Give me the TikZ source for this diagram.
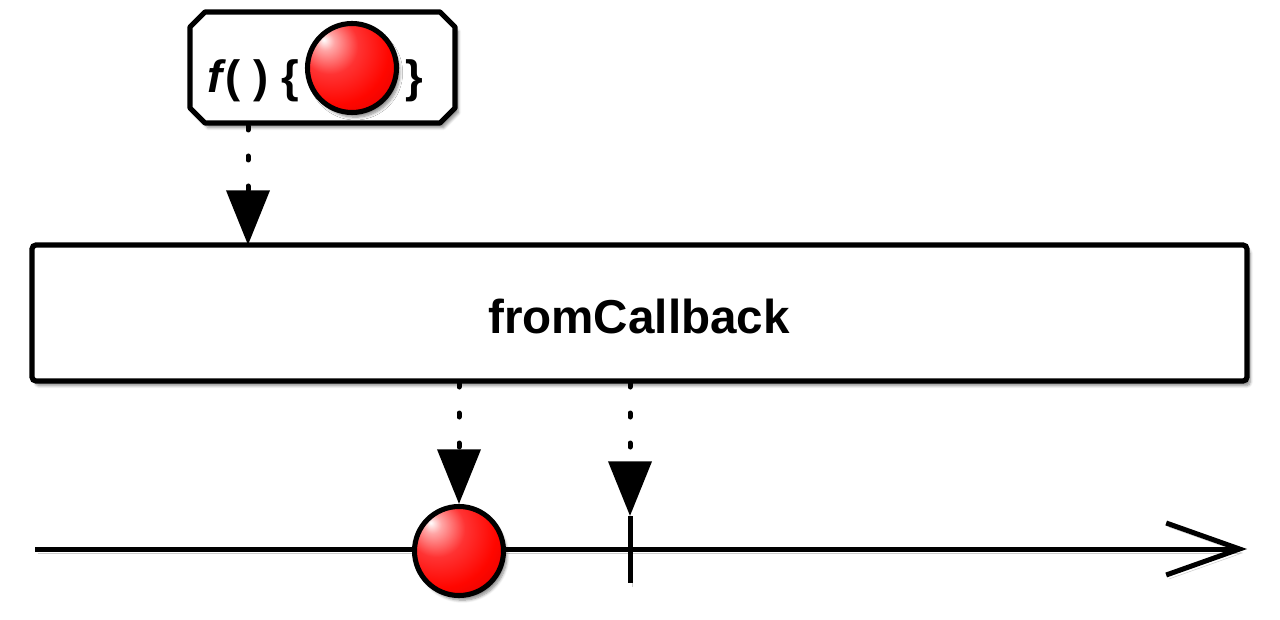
\documentclass[tikz,border=0pt]{standalone}
\usepackage{fontspec}
\setmainfont{Liberation Sans}
\usetikzlibrary{arrows.meta,shadows.blur}
\pgfdeclareradialshading{marbleshade}{\pgfpoint{-16bp}{16bp}}{%
  color(0bp)=(white);
  color(5bp)=(red!35!white);
  color(16bp)=(red!80!white);
  color(30bp)=(red!95!orange);
  color(46bp)=(red!85!black);
  color(62bp)=(red!45!black);
  color(75bp)=(red!40!black)}
\begin{document}
\begin{tikzpicture}[x=0.75pt,y=-0.75pt,
  thick line/.style={line width=3.9pt},
  sh/.style={blur shadow={shadow xshift=2.5pt,shadow yshift=-3.5pt,shadow blur steps=6,shadow opacity=45}},
  dotarrow/.style={draw=black,line width=3.75pt,line cap=round,dash pattern=on 3pt off 19.5pt,
    -{Triangle[length=41pt,width=32pt,line cap=butt,color=black,fill=black]}},
  marble/.style={circle,draw=black,line width=3.8pt,shading=marbleshade,minimum size=66.75pt,inner sep=0pt,sh},
  lbl/.style={font=\fontsize{34}{40}\selectfont\bfseries,inner sep=0pt,anchor=base}
]
\useasboundingbox (0,0) rectangle (1280,620);
% top function box (octagon)
\coordinate (fbox) at (322.5,67.5);
\draw[thick line,fill=white,line join=round,sh]
  (205,12) -- (440,12) -- (455,27) -- (455,108) -- (440,123) -- (205,123) -- (190,108) -- (190,27) -- cycle;
\node[lbl] (ftext) at (253,93) {\textit{f}( ) \{};
\node[marble] (fball) at (352,68) {};
\node[lbl] (fclose) at (414,93) {\}};
% main operator box
\node[draw=black,thick line,rounded corners=3pt,fill=white,minimum width=911.25pt,minimum height=102pt,inner sep=0pt,sh]
  (op) at (639.5,313) {};
\node[font=\fontsize{35.7}{42}\selectfont\bfseries,inner sep=0pt] (optext) at (639,316) {fromCallback};
% timeline
\coordinate (t0) at (35,549);
\coordinate (t1) at (1247,549);
\draw[line width=3.75pt,-{Straight Barb[length=55pt,width=39pt]},
  preaction={draw=black!40,opacity=0.5,transform canvas={xshift=2pt,yshift=-3pt}}] (t0) -- (t1);
\coordinate (tk0) at (630,516);
\coordinate (tk1) at (630,583);
\draw[line width=3.75pt,preaction={draw=black!40,opacity=0.5,transform canvas={xshift=2pt,yshift=-3pt}}] (tk0) -- (tk1);
\node[marble] (ball) at (459,551) {};
% connectors
\coordinate (a0) at (248,126);
\coordinate (a1) at (248,245);
\draw[dotarrow] (a0) -- (a1);
\coordinate (b0) at (459,383);
\draw[dotarrow] (b0) -- (ball.north);
\coordinate (c0) at (630,383);
\draw[dotarrow] (c0) -- (tk0);
\end{tikzpicture}
\end{document}
